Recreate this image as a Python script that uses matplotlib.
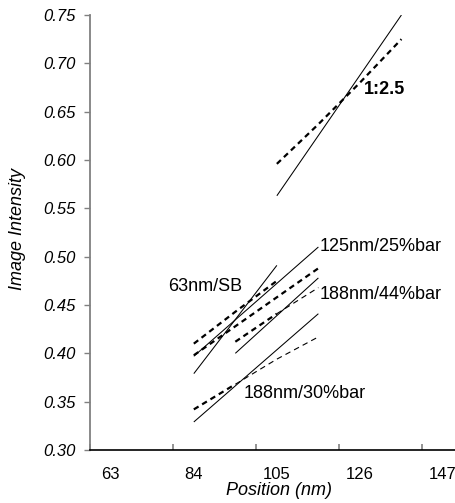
import matplotlib.pyplot as plt

plt.rcParams['font.family'] = ['Liberation Sans', 'DejaVu Sans']
plt.rcParams['lines.scale_dashes'] = False

# Edge intensity profiles: solid = linear fit, dashed = measured
sb_fit_x = [84, 105]
sb_fit_y = [0.379, 0.491]
sb_meas_x = [84, 94.5, 105]
sb_meas_y = [0.410, 0.443, 0.475]

bar25_fit_x = [84, 115.5]
bar25_fit_y = [0.397, 0.510]
bar25_meas_x = [84, 94.5, 105, 115.5]
bar25_meas_y = [0.398, 0.428, 0.458, 0.488]

bar44_fit_x = [94.5, 115.5]
bar44_fit_y = [0.400, 0.478]
bar44_meas_x = [94.5, 105, 115.5]
bar44_meas_y = [0.412, 0.441, 0.468]

bar30_fit_x = [84, 115.5]
bar30_fit_y = [0.329, 0.441]
bar30_meas_x = [84, 94.5, 105, 115.5]
bar30_meas_y = [0.342, 0.368, 0.394, 0.417]

ratio_fit_x = [105, 136.5]
ratio_fit_y = [0.563, 0.750]
ratio_meas_x = [105, 115.5, 126, 136.5]
ratio_meas_y = [0.596, 0.637, 0.680, 0.725]

x_tick_pos = [57.75, 78.75, 99.75, 120.75, 141.75]
x_label_pos = [63, 84, 105, 126, 147]
x_labels = ['63', '84', '105', '126', '147']
y_ticks = [0.30, 0.35, 0.40, 0.45, 0.50, 0.55, 0.60, 0.65, 0.70, 0.75]

fig = plt.figure(figsize=(4.56, 5.03), dpi=100)
ax = fig.add_axes([90 / 456, 53 / 503, 366 / 456, 435 / 503])

fit_kw = dict(color='black', lw=0.75, solid_capstyle='butt')
thick = dict(color='black', lw=1.6, ls=(0, (4, 3)))
thin = dict(color='black', lw=0.8, ls=(0, (4, 3)))

ax.plot(sb_fit_x, sb_fit_y, **fit_kw)
ax.plot(sb_meas_x, sb_meas_y, **thick)

ax.plot(bar25_fit_x, bar25_fit_y, **fit_kw)
ax.plot(bar25_meas_x, bar25_meas_y, **thick)

ax.plot(bar44_fit_x, bar44_fit_y, **fit_kw)
ax.plot(bar44_meas_x[:2], bar44_meas_y[:2], **thick)
ax.plot(bar44_meas_x[1:], bar44_meas_y[1:], **thin)

ax.plot(bar30_fit_x, bar30_fit_y, **fit_kw)
ax.plot(bar30_meas_x[:2], bar30_meas_y[:2], **thick)
ax.plot(bar30_meas_x[1:], bar30_meas_y[1:], **thin)

ax.plot(ratio_fit_x, ratio_fit_y, **fit_kw)
ax.plot(ratio_meas_x, ratio_meas_y, **thick)

# series labels
lab = dict(fontsize=13, va='center')
ax.text(96.3, 0.469, '63nm/SB', ha='right', **lab)
ax.text(115.8, 0.510, '125nm/25%bar', ha='left', **lab)
ax.text(115.7, 0.461, '188nm/44%bar', ha='left', **lab)
ax.text(96.6, 0.358, '188nm/30%bar', ha='left', **lab)
ax.text(127.1, 0.673, '1:2.5', ha='left', fontweight='bold', **lab)

ax.set_xlim(57.75, 150.3)
ax.set_ylim(0.30, 0.75)

for side in ('top', 'right'):
    ax.spines[side].set_visible(False)
ax.spines['left'].set_color('#808080')
ax.spines['left'].set_linewidth(1.3)
ax.spines['bottom'].set_color('black')
ax.spines['bottom'].set_linewidth(1.2)

ax.set_yticks(y_ticks)
ax.set_yticklabels([f'{v:.2f}' for v in y_ticks], fontstyle='italic', fontsize=12)
ax.tick_params(axis='y', direction='out', length=4, width=1, color='#808080', pad=6)

ax.set_xticks(x_tick_pos)
ax.set_xticklabels([])
ax.tick_params(axis='x', which='major', direction='in', length=4, width=1.2, color='#808080')
ax.set_xticks(x_label_pos, minor=True)
ax.set_xticklabels(x_labels, minor=True, fontsize=12)
ax.tick_params(axis='x', which='minor', length=0, pad=12)

ax.set_xlabel('Position (nm)', fontsize=13, fontstyle='italic')
ax.xaxis.set_label_coords(0.516, -0.074)
ax.set_ylabel('Image Intensity', fontsize=13, fontstyle='italic')
ax.yaxis.set_label_coords(-0.175, 0.508)

fig.savefig('out.png', dpi=100)
